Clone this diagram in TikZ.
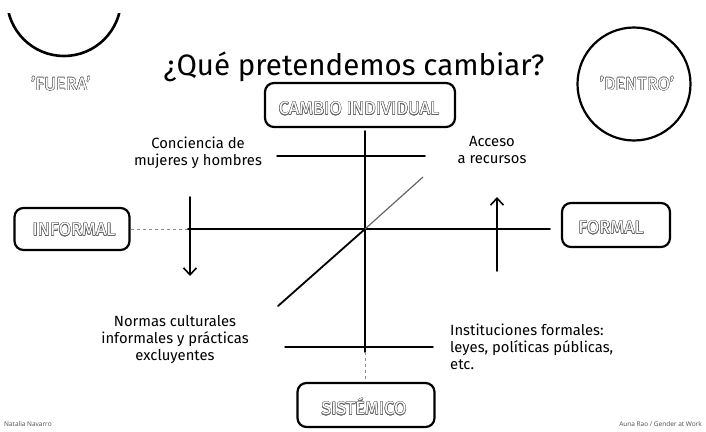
\documentclass[tikz,border=0pt]{standalone}
\usepackage{fontspec}
\setmainfont{Fira Sans}
\newfontfamily\footfont{Open Sans}
\usepackage{contour}
\contourlength{0.45pt}
\usetikzlibrary{arrows.meta}
\newcommand{\olbl}[1]{\contour{black!60}{\textcolor{white}{#1}}}
\tikzset{
 sketchbox/.style={draw, line width=2.2pt, rounded corners=9pt, inner sep=0pt},
 axisline/.style={line width=1.8pt, line cap=round},
 faint/.style={line width=0.9pt, dashed, black!45},
 hand/.style={font=\fontsize{14.8}{17}\selectfont, align=center, inner sep=0pt},
 lbl/.style={font=\fontsize{18}{18}\selectfont, inner sep=0pt},
 barb/.style={-{Straight Barb[length=7pt,width=13pt,line width=1.6pt]}},
 foot/.style={font=\footfont\fontsize{6.5}{7}\selectfont, text=black!70, inner sep=0pt},
}
\begin{document}
\begin{tikzpicture}[x=1pt,y=-1pt]
\useasboundingbox (0,0) rectangle (706,431);
% FUERA arc
\begin{scope}
 \clip (0,13) rectangle (140,80);
 \draw[line width=2.6pt] (64,-1) circle (57);
\end{scope}
\node[lbl] (fuera) at (61,84) {\olbl{'FUERA'}};
% DENTRO circle
\node[draw, circle, line width=2.2pt, minimum size=113pt, inner sep=0pt] (dentro) at (634,84) {};
\node[lbl] (dentrol) at (637,84) {\olbl{'DENTRO'}};
% title
\node[font=\fontsize{29.5}{30}\selectfont, inner sep=0pt] (title) at (354,67) {¿Qué pretendemos cambiar?};
% boxes
\node[sketchbox, minimum width=190pt, minimum height=44pt] (cambio) at (360,105) {};
\node[lbl] (cambiol) at (359,109) {\olbl{CAMBIO INDIVIDUAL}};
\node[sketchbox, minimum width=115pt, minimum height=42pt] (informal) at (72,229) {};
\node[lbl] (informall) at (74,230) {\olbl{INFORMAL}};
\node[sketchbox, minimum width=108pt, minimum height=44pt] (formal) at (616,225) {};
\node[lbl] (formall) at (611,228) {\olbl{FORMAL}};
\node[sketchbox, minimum width=137pt, minimum height=44pt] (sist) at (366,405) {};
\node[lbl] (sistl) at (364,407) {\olbl{SISTÉMICO}};
% axes
\coordinate (c) at (365,229);
\coordinate (vtop) at (365,131);
\coordinate (vbot) at (365,352);
\draw[axisline] (vtop) -- (vbot);
\draw[faint] (vbot) -- (sist.north -| vbot);
\coordinate (hd) at (188,229);
\coordinate (hend) at (550,229);
\draw[faint] (informal.east) -- (hd);
\draw[axisline] (hd) -- (hend);
\coordinate (u1) at (277,156);
\coordinate (u2) at (425,156);
\draw[axisline, line width=1.5pt] (u1) -- (u2);
\coordinate (l1) at (285,347);
\coordinate (l2) at (433,347);
\draw[axisline, line width=1.5pt] (l1) -- (l2);
\coordinate (dl) at (278,306);
\coordinate (du) at (423,177);
\draw[axisline] (dl) -- (c);
\draw[line width=1.2pt, black!60] (c) -- (du);
% arrows
\coordinate (a1s) at (190,197);
\coordinate (a1e) at (190,276);
\draw[axisline, barb] (a1s) -- (a1e);
\coordinate (a2s) at (497,271);
\coordinate (a2e) at (497,197);
\draw[axisline, barb] (a2s) -- (a2e);
% texts
\node[hand] (t1) at (198,153) {Conciencia de\\mujeres y hombres};
\node[hand] (t2) at (492,150) {Acceso\\a recursos};
\node[hand] (t3) at (175,340) {Normas culturales\\informales y prácticas\\excluyentes};
\node[hand, align=left, anchor=west] (t4) at (450,347) {Instituciones formales:\\leyes, políticas públicas,\\etc.};
% footer
\node[foot, anchor=west] (f1) at (4,424) {Natalia Navarro};
\node[foot, anchor=east] (f2) at (702,424) {Auna Rao / Gender at Work};
\end{tikzpicture}
\end{document}
